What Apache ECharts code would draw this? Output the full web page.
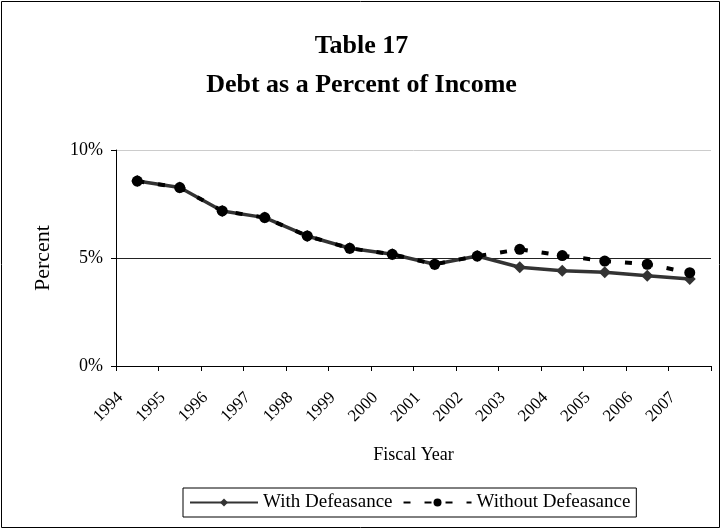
<!DOCTYPE html>
<html>
<head>
<meta charset="utf-8">
<script src="https://cdn.jsdelivr.net/npm/echarts@6/dist/echarts.min.js"></script>
<style>html,body{margin:0;padding:0;background:#fff}#c{width:723px;height:531px}</style>
</head>
<body>
<div id="c"></div>
<script>
const years = ['1994','1995','1996','1997','1998','1999','2000','2001','2002','2003','2004','2005','2006','2007'];
const withDefeasance = [8.56, 8.26, 7.18, 6.87, 6.02, 5.45, 5.17, 4.71, 5.09, 4.57, 4.41, 4.34, 4.18, 4.03];
const withoutDefeasance = [8.56, 8.26, 7.18, 6.87, 6.02, 5.45, 5.17, 4.71, 5.09, 5.40, 5.11, 4.86, 4.71, 4.32];
const yTicks = [0, 5, 10];

const chart = echarts.init(document.getElementById('c'));
const serif = '"Liberation Serif", "DejaVu Serif", serif';
chart.setOption({
  animation: false,
  graphic: [
    { type: 'rect', shape: { x: 1.5, y: 1.5, width: 718, height: 526 }, style: { fill: 'none', stroke: '#000', lineWidth: 1 } }
  ],
  title: {
    text: 'Table 17\nDebt as a Percent of Income',
    left: 'center', top: 22,
    textStyle: { fontFamily: serif, fontWeight: 'bold', fontSize: 26, lineHeight: 39, color: '#000' }
  },
  legend: {
    top: 488, left: 183,
    itemWidth: 68, itemHeight: 10, itemGap: 10,
    borderColor: '#000', borderWidth: 1, padding: [5, 6, 5, 6],
    textStyle: { fontFamily: serif, fontSize: 19, color: '#000' },
    data: ['With Defeasance', 'Without Defeasance']
  },
  grid: { left: 116, right: 12, top: 150, bottom: 165 },
  xAxis: {
    type: 'category', data: years, boundaryGap: true,
    name: 'Fiscal Year', nameLocation: 'middle', nameGap: 80,
    nameTextStyle: { fontFamily: serif, fontSize: 18, color: '#000' },
    axisLine: { lineStyle: { color: '#000', width: 1 } },
    axisTick: { show: true, length: 5, lineStyle: { color: '#000' } },
    axisLabel: { rotate: 45, fontFamily: serif, fontSize: 17, color: '#000', margin: 12, padding: [0, 24, 0, 0] }
  },
  yAxis: {
    type: 'value', min: yTicks[0], max: yTicks[2], interval: 5,
    name: 'Percent', nameLocation: 'middle', nameGap: 62,
    nameTextStyle: { fontFamily: serif, fontSize: 22, color: '#000' },
    axisLine: { show: true, lineStyle: { color: '#000', width: 1 } },
    axisTick: { show: true, length: 5, lineStyle: { color: '#000' } },
    axisLabel: { formatter: '{value}%', fontFamily: serif, fontSize: 18, color: '#000', margin: 13 },
    splitLine: { show: true, lineStyle: { color: ['#000', '#222', '#ccc'], width: 1 } }
  },
  series: [
    {
      name: 'With Defeasance', type: 'line', data: withDefeasance,
      symbol: 'diamond', symbolSize: 12,
      lineStyle: { color: '#333', width: 3.5 },
      itemStyle: { color: '#333' }, z: 2
    },
    {
      name: 'Without Defeasance', type: 'line', data: withoutDefeasance,
      symbol: 'circle', symbolSize: 11,
      lineStyle: { color: '#000', width: 4, type: [7, 14] },
      itemStyle: { color: '#000' }, z: 3
    }
  ]
});
</script>
</body>
</html>
